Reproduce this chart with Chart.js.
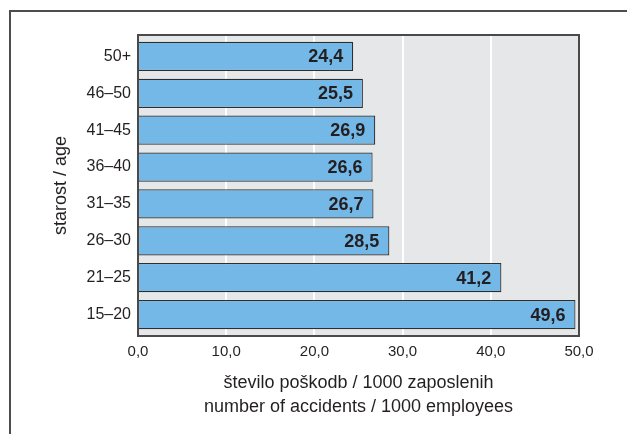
<!DOCTYPE html>
<html>
<head>
<meta charset="utf-8">
<script src="https://cdn.jsdelivr.net/npm/chart.js@4.4.1/dist/chart.umd.min.js"></script>
<style>
    html, body { margin: 0; padding: 0; background: #fff; }
    #wrap { width: 627px; height: 434px; position: relative; }
</style>
</head>
<body>
<div id="wrap"><canvas id="chart"></canvas></div>
<script>
// Age groups, top to bottom
const ageGroups = ['50+', '46–50', '41–45', '36–40', '31–35', '26–30', '21–25', '15–20'];
// accidents per 1000 employees
const accidentRates = [24.4, 25.5, 26.9, 26.6, 26.7, 28.5, 41.2, 49.6];
const xTicks = [0, 10, 20, 30, 40, 50];

const FONT = '"Liberation Sans", Arial, Helvetica, sans-serif';
const TEXT = '#231f20';
const fmt = v => v.toFixed(1).replace('.', ',');

// gray plot panel is a bit taller than the bar bands
const PANEL_PAD = 3;

const panelPlugin = {
    id: 'panel',
    beforeDraw(chart) {
        const ctx = chart.ctx;
        // outer frame (top and left edges only visible)
        ctx.save();
        ctx.strokeStyle = '#4d4d4d';
        ctx.lineWidth = 2;
        ctx.beginPath();
        ctx.moveTo(10, 434);
        ctx.lineTo(10, 11);
        ctx.lineTo(627, 11);
        ctx.stroke();
        ctx.restore();
    },
    beforeDatasetsDraw(chart) {
        const { ctx, chartArea: a, scales } = chart;
        const top = a.top - PANEL_PAD, bottom = a.bottom + PANEL_PAD;
        ctx.save();
        ctx.fillStyle = '#e6e7e9';
        ctx.fillRect(a.left, top, a.right - a.left, bottom - top);
        ctx.strokeStyle = '#ffffff';
        ctx.lineWidth = 2;
        xTicks.slice(1, -1).forEach(t => {
            const x = Math.round(scales.x.getPixelForValue(t));
            ctx.beginPath();
            ctx.moveTo(x, top);
            ctx.lineTo(x, bottom);
            ctx.stroke();
        });
        ctx.restore();
    },
    afterDatasetsDraw(chart) {
        const { ctx, chartArea: a } = chart;
        const top = a.top - PANEL_PAD, bottom = a.bottom + PANEL_PAD;
        ctx.save();
        ctx.strokeStyle = '#4a4a4a';
        ctx.lineWidth = 2;
        ctx.strokeRect(a.left, top, a.right - a.left, bottom - top);

        // value labels inside the bars
        const meta = chart.getDatasetMeta(0);
        ctx.fillStyle = TEXT;
        ctx.font = 'bold 18px ' + FONT;
        ctx.textAlign = 'right';
        ctx.textBaseline = 'middle';
        meta.data.forEach((bar, i) => {
            ctx.fillText(fmt(accidentRates[i]), bar.x - 10, bar.y + 1);
        });
        ctx.restore();
    },
};

new Chart(document.getElementById('chart'), {
    type: 'bar',
    data: {
        labels: ageGroups,
        datasets: [{
            data: accidentRates,
            backgroundColor: '#74b8e7',
            borderColor: '#2e2e2e',
            borderWidth: 1.2,
            borderSkipped: false,
            barPercentage: 0.79,
            categoryPercentage: 1,
        }],
    },
    options: {
        indexAxis: 'y',
        responsive: true,
        maintainAspectRatio: false,
        animation: false,
        layout: { padding: { top: 38, right: 48, bottom: 0, left: 0 } },
        plugins: {
            legend: { display: false },
            tooltip: { enabled: false },
        },
        scales: {
            x: {
                min: 0,
                max: 50,
                afterBuildTicks: s => { s.ticks = xTicks.map(v => ({ value: v })); },
                afterFit: s => { s.height = 101; },
                grid: { display: false, drawTicks: false },
                border: { display: false },
                ticks: {
                    color: TEXT,
                    font: { family: FONT, size: 15 },
                    padding: 10,
                    maxRotation: 0,
                    callback: v => fmt(v),
                },
                title: {
                    display: true,
                    text: ['število poškodb / 1000 zaposlenih', 'number of accidents / 1000 employees'],
                    color: TEXT,
                    font: { family: FONT, size: 18, lineHeight: 1.33 },
                    padding: { top: 0, bottom: 15 },
                },
            },
            y: {
                afterFit: s => { s.width = 138; },
                grid: { display: false, drawTicks: false },
                border: { display: false },
                ticks: {
                    color: TEXT,
                    font: { family: FONT, size: 16 },
                    padding: 7,
                },
                title: {
                    display: true,
                    text: 'starost / age',
                    color: TEXT,
                    font: { family: FONT, size: 18, lineHeight: 1.2 },
                    padding: { top: 50, bottom: 0 },
                },
            },
        },
    },
    plugins: [panelPlugin],
});
</script>
</body>
</html>
